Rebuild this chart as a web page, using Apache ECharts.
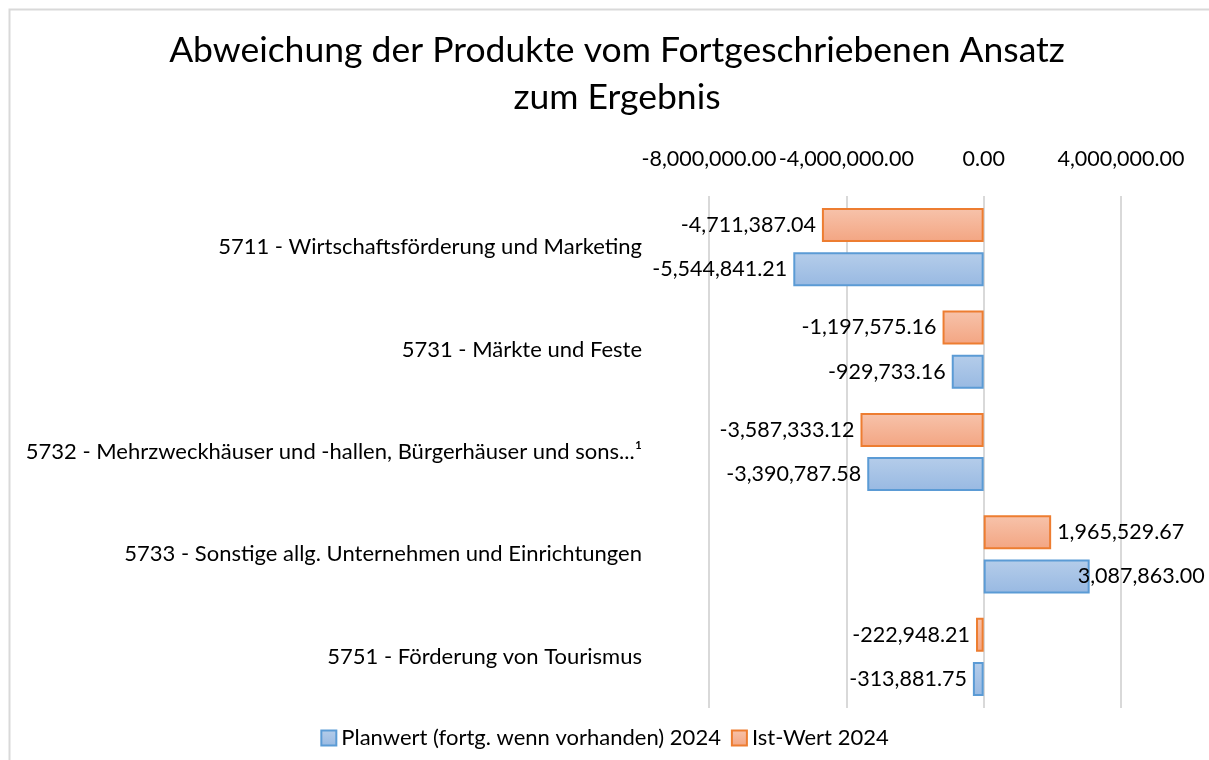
<!DOCTYPE html>
<html>
<head>
<meta charset="utf-8">
<script src="https://cdn.jsdelivr.net/npm/echarts@6/dist/echarts.min.js"></script>
<style>
  html, body { margin: 0; padding: 0; background: #fff; }
  #chart { width: 1209px; height: 760px; }
</style>
</head>
<body>
<div id="chart"></div>
<script>
// Daten aus dem Diagramm
const categories = [
  '5711 - Wirtschaftsförderung und Marketing',
  '5731 - Märkte und Feste',
  '5732 - Mehrzweckhäuser und -hallen, Bürgerhäuser und sons...¹',
  '5733 - Sonstige allg. Unternehmen und Einrichtungen',
  '5751 - Förderung von Tourismus'
]
const planName = 'Planwert (fortg. wenn vorhanden) 2024'
const istName = 'Ist-Wert 2024'
const planValues = [-5544841.21, -929733.16, -3390787.58, 3087863.00, -313881.75]
const istValues = [-4711387.04, -1197575.16, -3587333.12, 1965529.67, -222948.21]
const axisMin = -8000000
const axisMax = 4000000
const axisStep = 4000000

const fontFamily = 'Lato, "Open Sans", sans-serif'
const textSize = 21.5

const fmt = (v) =>
  v.toLocaleString('en-US', { minimumFractionDigits: 2, maximumFractionDigits: 2 })

// Excel schiebt das Label am rechten Rand etwas in den Balken hinein
const toItems = (values) =>
  values.map((v) => ({
    value: v,
    label: {
      position: v < 0 ? 'left' : 'right',
      offset: v > 3000000 ? [-18, 0] : [0, 0]
    }
  }))

const chart = echarts.init(document.getElementById('chart'))

const labelStyle = {
  show: true,
  color: '#000',
  fontSize: textSize,
  fontFamily,
  distance: 6,
  formatter: (p) => fmt(p.value)
}

const option = {
  backgroundColor: '#fff',
  animation: false,
  graphic: [
    {
      type: 'rect',
      left: 7,
      top: 7,
      shape: { width: 1230, height: 800 },
      style: { fill: 'none', stroke: '#d9d9d9', lineWidth: 2 },
      silent: true
    }
  ],
  title: {
    text: 'Abweichung der Produkte vom Fortgeschriebenen Ansatz\nzum Ergebnis',
    left: 612,
    textAlign: 'center',
    top: 22,
    textStyle: {
      fontFamily,
      fontWeight: 'normal',
      fontSize: 35.5,
      lineHeight: 47,
      color: '#000'
    }
  },
  legend: {
    data: [planName, istName],
    bottom: 6,
    left: 'center',
    icon: 'rect',
    itemWidth: 15,
    itemHeight: 15,
    itemGap: 10,
    textStyle: { fontFamily, fontSize: 22, color: '#000' }
  },
  grid: {
    left: 709,
    right: 88,
    top: 196,
    bottom: 52,
    containLabel: false
  },
  xAxis: {
    type: 'value',
    position: 'top',
    min: axisMin,
    max: axisMax,
    interval: axisStep,
    axisLine: { show: false },
    axisTick: { show: false },
    splitLine: { lineStyle: { color: '#d9d9d9', width: 2 } },
    axisLabel: {
      color: '#000',
      fontSize: textSize,
      fontFamily,
      margin: 26,
      formatter: (v) => fmt(v)
    }
  },
  yAxis: {
    type: 'category',
    data: categories,
    inverse: true,
    axisLine: { show: false },
    axisTick: { show: false },
    axisLabel: {
      color: '#000',
      fontSize: 22,
      fontFamily,
      margin: 67
    }
  },
  series: [
    {
      name: istName,
      type: 'bar',
      data: toItems(istValues),
      barWidth: 34,
      barGap: '30%',
      label: labelStyle,
      itemStyle: {
        borderColor: '#ED7D31',
        borderWidth: 2,
        color: new echarts.graphic.LinearGradient(0, 0, 0, 1, [
          { offset: 0, color: '#F7C3AB' },
          { offset: 1, color: '#F3A582' }
        ])
      }
    },
    {
      name: planName,
      type: 'bar',
      data: toItems(planValues),
      barWidth: 34,
      barGap: '30%',
      label: labelStyle,
      itemStyle: {
        borderColor: '#5B9BD5',
        borderWidth: 2,
        color: new echarts.graphic.LinearGradient(0, 0, 0, 1, [
          { offset: 0, color: '#B5CDEA' },
          { offset: 1, color: '#98B9E2' }
        ])
      }
    }
  ]
}

chart.setOption(option)
</script>
</body>
</html>
